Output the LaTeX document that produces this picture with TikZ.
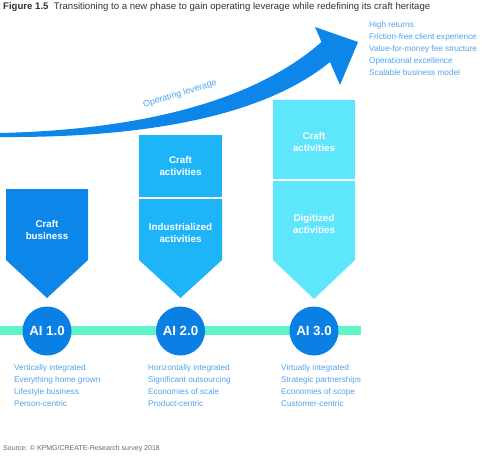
\documentclass[tikz,border=0pt]{standalone}
\usepackage{fontspec}
\setmainfont{Liberation Sans}
\definecolor{cBlue}{HTML}{0C86E8}
\definecolor{cMid}{HTML}{1EB5F8}
\definecolor{cCyan}{HTML}{5EE6FC}
\definecolor{cMint}{HTML}{5FF5C8}
\definecolor{cCircle}{HTML}{0B80E4}
\definecolor{cText}{HTML}{4FA3EE}
\definecolor{cTitle}{HTML}{333333}
\definecolor{cSrc}{HTML}{666666}
\tikzset{
  boxtext/.style={text=white,font=\fontsize{9.8}{12}\selectfont\bfseries,align=center},
  listtext/.style={text=cText,font=\fontsize{8.2}{12}\selectfont,align=left,anchor=north west,inner sep=0pt},
  aicircle/.style={circle,fill=cCircle,minimum size=49pt,inner sep=0pt,text=white,font=\fontsize{13.3}{15}\selectfont\bfseries},
}
\begin{document}
\begin{tikzpicture}[x=1pt,y=-1pt]
\useasboundingbox (0,0) rectangle (500,458);
% title
\node[anchor=west,inner sep=0pt,text=cTitle,font=\fontsize{9.6}{11}\selectfont] (title) at (3,7) {\textbf{Figure 1.5}\ \ Transitioning to a new phase to gain operating leverage while redefining its craft heritage};
% big arrow
\fill[cBlue] (0,133) .. controls (130,130) and (250,105) .. (321.5,42) -- (315,27) -- (358,42) -- (340,85) -- (330,62) .. controls (265,115) and (150,138) .. (0,137) -- cycle;
\node[rotate=17,text=cText,font=\fontsize{9}{10}\selectfont,inner sep=0pt] (lev) at (180,94) {Operating leverage};
% outcome list
\node[listtext] (out) at (369,21) {High returns\\Friction-free client experience\\Value-for-money fee structure\\Operational excellence\\Scalable business model};
% green band
\fill[cMint] (0,326) rectangle (361,335);
% column 1
\fill[cBlue] (6,189) -- (88,189) -- (88,260) -- (47,298) -- (6,260) -- cycle;
\node[boxtext] (c1) at (47,230) {Craft\\business};
% column 2
\fill[cMid] (139,135) rectangle (222,197);
\fill[cMid] (139,199) -- (222,199) -- (222,260) -- (180.5,298) -- (139,260) -- cycle;
\node[boxtext] (c2a) at (180.5,166) {Craft\\activities};
\node[boxtext] (c2b) at (180.5,233) {Industrialized\\activities};
% column 3
\fill[cCyan] (273,100) rectangle (355,179);
\fill[cCyan] (273,181) -- (355,181) -- (355,260) -- (314,299) -- (273,260) -- cycle;
\node[boxtext] (c3a) at (314,142) {Craft\\activities};
\node[boxtext] (c3b) at (314,224) {Digitized\\activities};
% circles
\node[aicircle] (ai1) at (47,331) {AI 1.0};
\node[aicircle] (ai2) at (180.5,331) {AI 2.0};
\node[aicircle] (ai3) at (314,331) {AI 3.0};
% lists
\node[listtext] (l1) at (14,364) {Vertically integrated\\Everything home grown\\Lifestyle business\\Person-centric};
\node[listtext] (l2) at (148,364) {Horizontally integrated\\Significant outsourcing\\Economies of scale\\Product-centric};
\node[listtext] (l3) at (281,364) {Virtually integrated\\Strategic partnerships\\Economies of scope\\Customer-centric};
% source
\node[anchor=west,inner sep=0pt,text=cSrc,font=\fontsize{7}{8}\selectfont] (src) at (3,449) {Source: © KPMG/CREATE-Research survey 2018};
\end{tikzpicture}
\end{document}
